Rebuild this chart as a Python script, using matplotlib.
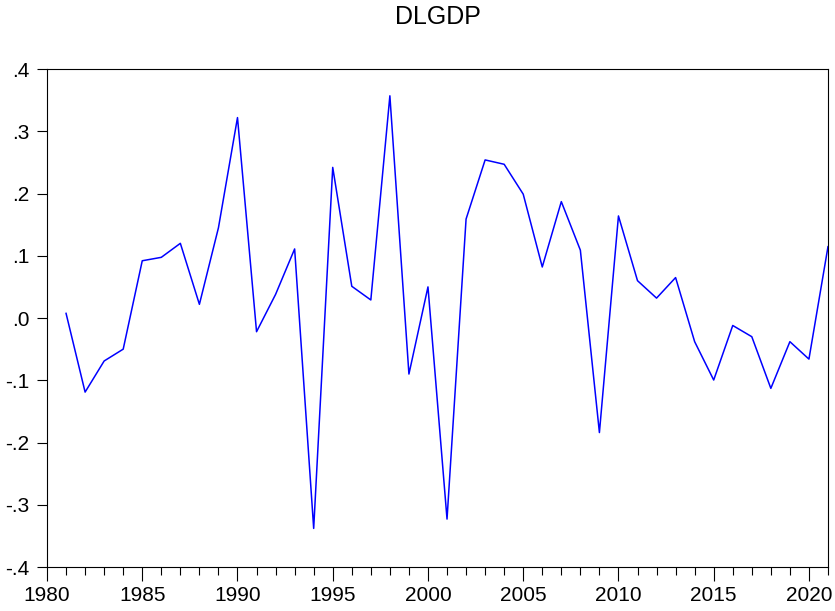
import matplotlib
matplotlib.use("Agg")
import matplotlib.pyplot as plt
from matplotlib.ticker import MultipleLocator, FuncFormatter

plt.rcParams['font.family'] = ['Liberation Sans', 'DejaVu Sans']

years = list(range(1981, 2022))
dlgdp = [0.0075, -0.119, -0.069, -0.050, 0.092, 0.0975, 0.120, 0.022, 0.145, 0.322,
         -0.022, 0.038, 0.111, -0.338, 0.242, 0.051, 0.029, 0.357, -0.090, 0.050,
         -0.323, 0.159, 0.254, 0.247, 0.199, 0.082, 0.187, 0.109, -0.184, 0.164,
         0.060, 0.032, 0.065, -0.038, -0.0996, -0.012, -0.030, -0.113, -0.038, -0.066,
         0.1146]

fig = plt.figure(figsize=(8.35, 6.11), dpi=100)
ax = fig.add_axes([0.0563, 0.072, 0.9353, 0.815])
ax.plot(years, dlgdp, color='#0000ff', linewidth=1.1)

ax.set_xlim(1980, 2021)
ax.set_ylim(-0.4, 0.4)
ax.xaxis.set_major_locator(MultipleLocator(5))
ax.xaxis.set_minor_locator(MultipleLocator(1))
ax.yaxis.set_major_locator(MultipleLocator(0.1))

def fmt(v, pos):
    s = "%.1f" % v
    if s == "-0.0":
        s = "0.0"
    return s.replace("0.", ".", 1)

ax.yaxis.set_major_formatter(FuncFormatter(fmt))
ax.tick_params(axis='both', which='major', direction='out', width=0.8,
               labelsize=15, colors='black')
ax.tick_params(axis='x', which='major', length=10, pad=3.5)
ax.tick_params(axis='x', which='minor', direction='out', length=5.5, width=0.8)
ax.tick_params(axis='y', which='major', length=7, pad=5.5)
for sp in ax.spines.values():
    sp.set_linewidth(0.8)

fig.text(0.5 * (0.0563 + 0.9916), 1 - 24 / 611, "DLGDP", fontsize=18,
         ha='center', va='baseline')
fig.savefig("out.png", dpi=100)
